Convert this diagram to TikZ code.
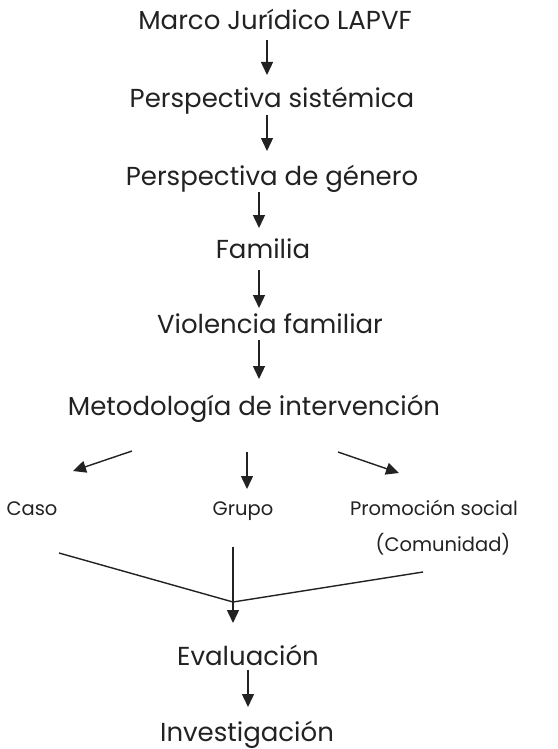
\documentclass[tikz,border=0pt]{standalone}
\usepackage{fontspec}
\setmainfont{Poppins}
\usetikzlibrary{arrows.meta}
\definecolor{ink}{HTML}{222222}
\tikzset{
  big/.style={font=\fontsize{26}{30}\selectfont, text=ink, inner sep=0pt, anchor=base},
  small/.style={font=\fontsize{19.5}{22}\selectfont, text=ink, inner sep=0pt, anchor=base},
  arr/.style={draw=ink, line width=1.4pt, -{Triangle[length=13pt,width=12pt]}},
  ln/.style={draw=ink, line width=1.4pt}
}
\begin{document}
\begin{tikzpicture}[x=1pt,y=-1pt]
\useasboundingbox[fill=white] (0,0) rectangle (557,749);
\node[big] (m) at (275,30) {Marco Jurídico LAPVF};
\node[big] (ps) at (272,107) {Perspectiva sistémica};
\node[big] (pg) at (272,185) {Perspectiva de género};
\node[big] (fa) at (263,258) {Familia};
\node[big] (vf) at (270,333) {Violencia familiar};
\node[big] (mi) at (254,415) {Metodología de intervención};
\node[small] (ca) at (32,515) {Caso};
\node[small] (gr) at (243,515) {Grupo};
\node[small] (pr) at (434,515) {Promoción social};
\node[small] (co) at (443,551) {(Comunidad)};
\node[big] (ev) at (248,665) {Evaluación};
\node[big] (in) at (247,741) {Investigación};
% arrow end points
\coordinate (a1s) at (267,40);  \coordinate (a1e) at (267,75);
\coordinate (a2s) at (267,115); \coordinate (a2e) at (267,151);
\coordinate (a3s) at (259,192); \coordinate (a3e) at (259,228);
\coordinate (a4s) at (259,270); \coordinate (a4e) at (259,308);
\coordinate (a5s) at (259,340); \coordinate (a5e) at (259,379);
\coordinate (lcs) at (132,451); \coordinate (lce) at (73,471);
\coordinate (mgs) at (247,452); \coordinate (mge) at (247,489);
\coordinate (rps) at (338,452); \coordinate (rpe) at (399,473);
\coordinate (jl) at (59,553);
\coordinate (jr) at (423,572);
\coordinate (jm) at (233,602);
\coordinate (js) at (233,547);
\coordinate (je) at (233,623);
\coordinate (a6s) at (248,670); \coordinate (a6e) at (248,707);
\draw[arr] (a1s) -- (a1e);
\draw[arr] (a2s) -- (a2e);
\draw[arr] (a3s) -- (a3e);
\draw[arr] (a4s) -- (a4e);
\draw[arr] (a5s) -- (a5e);
\draw[arr] (lcs) -- (lce);
\draw[arr] (mgs) -- (mge);
\draw[arr] (rps) -- (rpe);
\draw[ln] (jl) -- (jm) -- (jr);
\draw[arr] (js) -- (je);
\draw[arr] (a6s) -- (a6e);
\end{tikzpicture}
\end{document}
